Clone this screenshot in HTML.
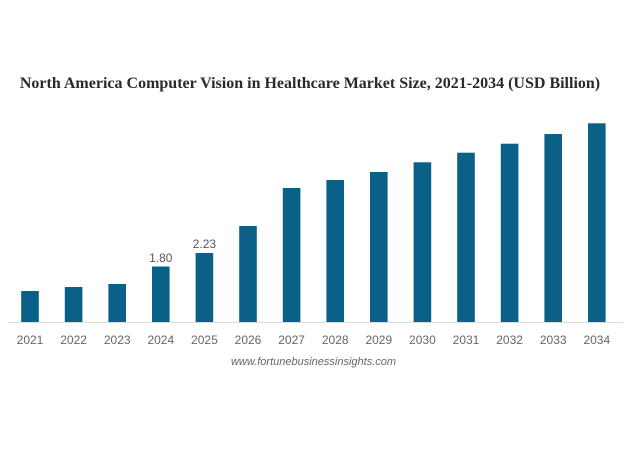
<!DOCTYPE html>
<html><head><meta charset="utf-8"><style>
html,body{margin:0;padding:0;background:#fff;}
svg{display:block;}
</style></head><body>
<svg width="628" height="471" viewBox="0 0 628 471" xmlns="http://www.w3.org/2000/svg">
<rect width="628" height="471" fill="#fff"/>
<text x="310" y="88" text-anchor="middle" font-family="'Liberation Serif', serif" font-weight="bold" font-size="16" fill="#2a2a2a">North America Computer Vision in Healthcare Market Size, 2021-2034 (USD Billion)</text>
<line x1="8" y1="322.5" x2="623" y2="322.5" stroke="#dcdcdc" stroke-width="1"/>
<g fill="#0a6087">
<rect x="21.2" y="291" width="17.6" height="31"/>
<rect x="64.8" y="287" width="17.6" height="35"/>
<rect x="108.4" y="284" width="17.6" height="38"/>
<rect x="152.0" y="266.5" width="17.6" height="55.5"/>
<rect x="195.6" y="253" width="17.6" height="69"/>
<rect x="239.2" y="226" width="17.6" height="96"/>
<rect x="282.8" y="188" width="17.6" height="134"/>
<rect x="326.4" y="180" width="17.6" height="142"/>
<rect x="370.0" y="172" width="17.6" height="150"/>
<rect x="413.6" y="162.3" width="17.6" height="159.7"/>
<rect x="457.2" y="152.7" width="17.6" height="169.3"/>
<rect x="500.8" y="143.7" width="17.6" height="178.3"/>
<rect x="544.4" y="134" width="17.6" height="188"/>
<rect x="588.0" y="123.3" width="17.6" height="198.7"/>
</g>
<g font-family="'Liberation Sans', sans-serif" font-size="12" fill="#555" text-anchor="middle">
<text x="160.8" y="262">1.80</text>
<text x="204.4" y="248">2.23</text>
</g>
<g font-family="'Liberation Sans', sans-serif" font-size="12" fill="#666" text-anchor="middle">
<text x="30" y="344">2021</text>
<text x="73.6" y="344">2022</text>
<text x="117.2" y="344">2023</text>
<text x="160.8" y="344">2024</text>
<text x="204.4" y="344">2025</text>
<text x="248" y="344">2026</text>
<text x="291.6" y="344">2027</text>
<text x="335.2" y="344">2028</text>
<text x="378.8" y="344">2029</text>
<text x="422.4" y="344">2030</text>
<text x="466" y="344">2031</text>
<text x="509.6" y="344">2032</text>
<text x="553.2" y="344">2033</text>
<text x="596.8" y="344">2034</text>
</g>
<text x="313.5" y="365" text-anchor="middle" font-family="'Liberation Sans', sans-serif" font-style="italic" font-size="11" fill="#666">www.fortunebusinessinsights.com</text>
</svg>
</body></html>
